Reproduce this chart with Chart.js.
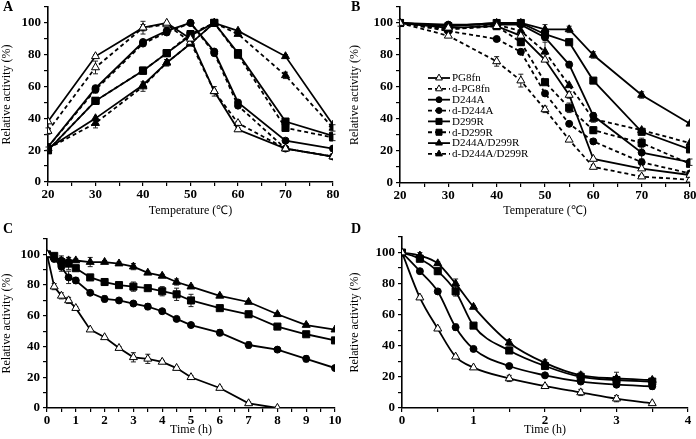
<!DOCTYPE html>
<html>
<head>
<script src="https://cdn.jsdelivr.net/npm/chart.js"></script>
<style>
  body { margin: 0; background: #fff; width: 696px; height: 439px; position: relative; overflow: hidden; }
  .panel { position: absolute; }
  .tag { position: absolute; font: bold 14px "Liberation Serif", serif; color: #000; }
</style>
</head>
<body>
<div class="panel" style="left:0;top:0;width:348px;height:220px"><canvas id="chartA"></canvas></div>
<div class="panel" style="left:348px;top:0;width:348px;height:220px"><canvas id="chartB"></canvas></div>
<div class="panel" style="left:0;top:220px;width:348px;height:219px"><canvas id="chartC"></canvas></div>
<div class="panel" style="left:348px;top:220px;width:348px;height:219px"><canvas id="chartD"></canvas></div>
<div class="tag" style="left:3px;top:-1px">A</div>
<div class="tag" style="left:351px;top:-1px">B</div>
<div class="tag" style="left:3px;top:221px">C</div>
<div class="tag" style="left:351px;top:221px">D</div>

<script>
// series names (legend)
const names = ["PG8fn", "d-PG8fn", "D244A", "d-D244A", "D299R", "d-D299R", "D244A/D299R", "d-D244A/D299R"];

// A: optimum temperature
const tempsA = [20, 30, 40, 45, 50, 55, 60, 70, 80];
const pg8fnA   = [38, 79, 97, 100, 90, 57, 33, 21, 16];
const dpg8fnA  = [32, 72, 97, 99, 88, 57, 37, 21, 16];
const d244aA   = [22, 59, 88, 95, 100, 82, 50, 26, 21];
const dd244aA  = [22, 58, 87, 94, 100, 81, 48, 21, 16];
const d299rA   = [20, 51, 70, 81, 92, 100, 81, 38, 29];
const dd299rA  = [20, 51, 70, 81, 93, 100, 80, 34, 28];
const doubleA  = [21, 40, 61, 75, 87, 100, 95, 79, 36];
const ddoubleA = [21, 37, 60, 75, 87, 100, 93, 67, 34];
// error bars (+/-) for A
const pg8fnAErr   = [0, 1, 4, 0, 0, 3, 1, 0, 0];
const dpg8fnAErr  = [2, 4, 2, 0, 0, 0, 1, 0, 0];
const d244aAErr   = [0, 0, 0, 2, 0, 0, 0, 0, 0];
const dd244aAErr  = [0, 2, 0, 0, 0, 0, 0, 0, 0];
const d299rAErr   = [0, 0, 0, 0, 0, 0, 2, 0, 0];
const dd299rAErr  = [0, 0, 2, 0, 0, 0, 0, 0, 2];
const doubleAErr  = [0, 0, 0, 2, 0, 0, 0, 1, 0];
const ddoubleAErr = [1, 3, 3, 2, 0, 0, 1, 2, 2];

// B: thermal stability vs temperature
const tempsB = [20, 30, 40, 45, 50, 55, 60, 70, 80];
const pg8fnB   = [100, 97, 98, 92, 77, 55, 15, 9, 5];
const dpg8fnB  = [100, 92, 76, 64, 46, 27, 10, 4, 2];
const d244aB   = [100, 99, 99, 99, 91, 74, 42, 19, 13];
const dd244aB  = [100, 95, 90, 82, 56, 37, 26, 13, 6];
const d299rB   = [100, 98, 100, 100, 93, 88, 64, 32, 21];
const dd299rB  = [100, 96, 98, 88, 63, 47, 33, 25, 12];
const doubleB  = [100, 98, 100, 100, 96, 96, 80, 55, 37];
const ddoubleB = [100, 96, 99, 95, 82, 61, 40, 33, 25];
const pg8fnBErr   = [0, 0, 2, 0, 0, 2, 0, 0, 0];
const dpg8fnBErr  = [0, 0, 3, 4, 2, 0, 0, 1, 0];
const d244aBErr   = [0, 0, 0, 0, 0, 2, 2, 4, 2];
const dd244aBErr  = [0, 0, 0, 0, 0, 0, 0, 0, 0];
const d299rBErr   = [2, 0, 0, 0, 0, 0, 0, 0, 0];
const dd299rBErr  = [0, 0, 0, 2, 0, 3, 2, 3, 0];
const doubleBErr  = [0, 0, 2, 0, 3, 2, 2, 2, 0];
const ddoubleBErr = [0, 0, 0, 0, 6, 0, 2, 0, 0];

// C: half-life at lower temperature
const timesC = [0, 0.25, 0.5, 0.75, 1, 1.5, 2, 2.5, 3, 3.5, 4, 4.5, 5, 6, 7, 8, 9, 10];
const pg8fnC  = [100, 79, 73, 70, 65, 51, 46, 39, 33, 32, 30, 26, 20, 13, 3, 0, null, null];
const d244aC  = [100, 97, 92, 85, 83, 75, 71, 70, 68, 66, 63, 58, 54, 49, 41, 38, 32, 26];
const d299rC  = [100, 99, 95, 94, 91, 85, 82, 80, 79, 78, 76, 74, 70, 65, 61, 53, 48, 44];
const doubleC = [100, 98, 96, 96, 96, 95, 95, 94, 92, 88, 86, 82, 79, 73, 69, 61, 54, 51];
const pg8fnCErr  = [0, 2, 2, 2, 1, 0, 0, 1, 3, 3, 1, 1, 1, 1, 1, 0, null, null];
const d244aCErr  = [0, 1, 3, 4, 2, 1, 2, 1, 1, 2, 1, 0, 1, 2, 2, 1, 2, 0];
const d299rCErr  = [0, 1, 4, 4, 1, 1, 2, 1, 3, 1, 3, 4, 4, 1, 2, 1, 1, 0];
const doubleCErr = [0, 1, 2, 2, 1, 3, 1, 1, 2, 1, 1, 2, 1, 1, 1, 1, 1, 0];

// D: half-life at higher temperature
const timesD = [0, 0.25, 0.5, 0.75, 1, 1.5, 2, 2.5, 3, 3.5];
const pg8fnD  = [100, 71, 51, 33, 26, 19, 14, 10, 6, 3];
const d244aD  = [100, 88, 75, 52, 38, 27, 21, 17, 15, 14];
const d299rD  = [100, 96, 88, 75, 53, 37, 27, 20, 18, 17];
const doubleD = [100, 98, 93, 80, 65, 42, 29, 21, 19, 18];
const pg8fnDErr  = [0, 1, 1, 1, 0, 2, 1, 2, 2, 0];
const d244aDErr  = [0, 0, 0, 2, 0, 0, 0, 0, 0, 2];
const d299rDErr  = [0, 1, 2, 3, 0, 0, 0, 0, 2, 1];
const doubleDErr = [0, 2, 1, 3, 1, 2, 2, 2, 4, 1];

const yTicks = [0, 20, 40, 60, 80, 100];

const serif = '"Liberation Serif", "Times New Roman", serif';
Chart.defaults.font.family = serif;
Chart.defaults.color = '#000';

// marker look for each variant
const markers = {
  open:   { pointStyle: 'triangle', pointRadius: 4.6, pointBackgroundColor: '#fff' },
  circle: { pointStyle: 'circle',   pointRadius: 3.5, pointBackgroundColor: '#000' },
  square: { pointStyle: 'rect',     pointRadius: 5.0, pointBackgroundColor: '#000' },
  tri:    { pointStyle: 'triangle', pointRadius: 4.6, pointBackgroundColor: '#000' }
};

function series(label, xs, ys, err, kind, dashed, tension) {
  const pts = [], errs = [];
  xs.forEach((x, i) => {
    if (ys[i] !== null) { pts.push({ x: x, y: ys[i] }); errs.push(err[i]); }
  });
  return Object.assign({
    label: label,
    data: pts,
    err: errs,
    borderColor: '#000',
    borderWidth: 1.8,
    borderDash: dashed ? [4, 3] : [],
    pointBorderColor: '#000',
    pointBorderWidth: 1,
    tension: tension || 0,
    cubicInterpolationMode: tension ? 'monotone' : 'default',
    fill: false
  }, markers[kind]);
}

// vertical error bars with small caps
const errorBars = {
  id: 'errorBars',
  beforeDatasetsDraw(chart) {
    const ctx = chart.ctx, ys = chart.scales.y, xs = chart.scales.x;
    ctx.save();
    ctx.strokeStyle = '#222';
    ctx.lineWidth = 1;
    chart.data.datasets.forEach(ds => {
      ds.data.forEach((p, i) => {
        const e = ds.err[i];
        if (!e) return;
        const px = xs.getPixelForValue(p.x);
        const top = ys.getPixelForValue(Math.min(p.y + e, 110));
        const bot = ys.getPixelForValue(Math.max(p.y - e, 0));
        ctx.beginPath();
        ctx.moveTo(px, top); ctx.lineTo(px, bot);
        ctx.moveTo(px - 2.5, top); ctx.lineTo(px + 2.5, top);
        ctx.moveTo(px - 2.5, bot); ctx.lineTo(px + 2.5, bot);
        ctx.stroke();
      });
    });
    ctx.restore();
  }
};

// legend drawn as line + marker + text like the original
const lineLegend = {
  id: 'lineLegend',
  afterDraw(chart) {
    const o = chart.options.plugins.lineLegend;
    if (!o || !o.show) return;
    const ctx = chart.ctx;
    chart.data.datasets.forEach((ds, i) => {
      const y = o.top + i * o.step;
      ctx.save();
      ctx.strokeStyle = '#000';
      ctx.lineWidth = 1.8;
      ctx.setLineDash(ds.borderDash);
      ctx.beginPath();
      ctx.moveTo(o.left, y);
      ctx.lineTo(o.left + 22, y);
      ctx.stroke();
      ctx.setLineDash([]);
      const cx = o.left + 11, r = ds.pointRadius * 0.85;
      ctx.fillStyle = ds.pointBackgroundColor;
      ctx.lineWidth = 1;
      ctx.beginPath();
      if (ds.pointStyle === 'circle') {
        ctx.arc(cx, y, r, 0, Math.PI * 2);
      } else if (ds.pointStyle === 'rect') {
        const s = r * Math.SQRT1_2;
        ctx.rect(cx - s, y - s, 2 * s, 2 * s);
      } else {
        ctx.moveTo(cx, y - r);
        ctx.lineTo(cx + r * 0.866, y + r * 0.5);
        ctx.lineTo(cx - r * 0.866, y + r * 0.5);
        ctx.closePath();
      }
      ctx.fill();
      ctx.stroke();
      ctx.fillStyle = '#000';
      ctx.font = '11px ' + serif;
      ctx.textBaseline = 'middle';
      ctx.fillText(ds.label, o.left + 24, y + 0.5);
      ctx.restore();
    });
  }
};

function makeChart(id, datasets, cfg) {
  new Chart(document.getElementById(id), {
    type: 'line',
    data: { datasets: datasets },
    plugins: [errorBars, lineLegend],
    options: {
      responsive: true,
      maintainAspectRatio: false,
      animation: false,
      layout: { padding: { left: 0, right: cfg.right, top: cfg.top, bottom: 0 } },
      plugins: {
        legend: { display: false },
        tooltip: { enabled: false },
        lineLegend: cfg.legend || { show: false }
      },
      scales: {
        x: {
          type: 'linear',
          min: cfg.xmin, max: cfg.xmax,
          ticks: {
            stepSize: cfg.xstep,
            padding: 1,
            font: { size: 13, weight: 'bold' },
            maxRotation: 0,
            autoSkip: false,
            callback: v => (cfg.xlabels.indexOf(v) >= 0 ? v : '')
          },
          grid: { drawOnChartArea: false, drawTicks: true, tickLength: 4, color: '#000', lineWidth: 1.2 },
          border: { color: '#000', width: 1.6 },
          title: { display: true, text: cfg.xtitle, font: { size: 12 }, padding: { top: 0, bottom: 2 } },
          afterFit: s => { s.height = cfg.xh; s.paddingLeft = 0; s.paddingRight = 0; }
        },
        y: {
          min: 0, max: 110,
          ticks: {
            stepSize: 10,
            padding: 3,
            font: { size: 13, weight: 'bold' },
            autoSkip: false,
            callback: v => (yTicks.indexOf(v) >= 0 ? v : '')
          },
          grid: { drawOnChartArea: false, drawTicks: true, tickLength: 4, color: '#000', lineWidth: 1.2 },
          border: { color: '#000', width: 1.6 },
          title: { display: true, text: 'Relative activity (%)', font: { size: 12 }, padding: { top: 0, bottom: 1 } },
          afterFit: s => { s.width = cfg.yw; s.paddingTop = 0; s.paddingBottom = 0; }
        }
      }
    }
  });
}

const tempLabels = [20, 30, 40, 50, 60, 70, 80];

makeChart('chartA', [
  series(names[0], tempsA, pg8fnA, pg8fnAErr, 'open', false),
  series(names[1], tempsA, dpg8fnA, dpg8fnAErr, 'open', true),
  series(names[2], tempsA, d244aA, d244aAErr, 'circle', false),
  series(names[3], tempsA, dd244aA, dd244aAErr, 'circle', true),
  series(names[4], tempsA, d299rA, d299rAErr, 'square', false),
  series(names[5], tempsA, dd299rA, dd299rAErr, 'square', true),
  series(names[6], tempsA, doubleA, doubleAErr, 'tri', false),
  series(names[7], tempsA, ddoubleA, ddoubleAErr, 'tri', true)
], { xmin: 20, xmax: 80, xstep: 5, xlabels: tempLabels, xtitle: 'Temperature (℃)',
     yw: 48, xh: 38, right: 15, top: 7 });

makeChart('chartB', [
  series(names[0], tempsB, pg8fnB, pg8fnBErr, 'open', false),
  series(names[1], tempsB, dpg8fnB, dpg8fnBErr, 'open', true),
  series(names[2], tempsB, d244aB, d244aBErr, 'circle', false),
  series(names[3], tempsB, dd244aB, dd244aBErr, 'circle', true),
  series(names[4], tempsB, d299rB, d299rBErr, 'square', false),
  series(names[5], tempsB, dd299rB, dd299rBErr, 'square', true),
  series(names[6], tempsB, doubleB, doubleBErr, 'tri', false),
  series(names[7], tempsB, ddoubleB, ddoubleBErr, 'tri', true)
], { xmin: 20, xmax: 80, xstep: 5, xlabels: tempLabels, xtitle: 'Temperature (℃)',
     yw: 52, xh: 37, right: 5, top: 7,
     legend: { show: true, left: 80, top: 78, step: 10.85 } });

makeChart('chartC', [
  series(names[0], timesC, pg8fnC, pg8fnCErr, 'open', false),
  series(names[2], timesC, d244aC, d244aCErr, 'circle', false),
  series(names[4], timesC, d299rC, d299rCErr, 'square', false),
  series(names[6], timesC, doubleC, doubleCErr, 'tri', false)
], { xmin: 0, xmax: 10, xstep: 0.5, xlabels: [0, 1, 2, 3, 4, 5, 6, 7, 8, 9, 10], xtitle: 'Time (h)',
     yw: 47, xh: 31, right: 13, top: 19 });

makeChart('chartD', [
  series(names[0], timesD, pg8fnD, pg8fnDErr, 'open', false, 0.4),
  series(names[2], timesD, d244aD, d244aDErr, 'circle', false, 0.4),
  series(names[4], timesD, d299rD, d299rDErr, 'square', false, 0.4),
  series(names[6], timesD, doubleD, doubleDErr, 'tri', false, 0.4)
], { xmin: 0, xmax: 4, xstep: 0.5, xlabels: [0, 1, 2, 3, 4], xtitle: 'Time (h)',
     yw: 54, xh: 31, right: 8, top: 17 });
</script>
</body>
</html>
